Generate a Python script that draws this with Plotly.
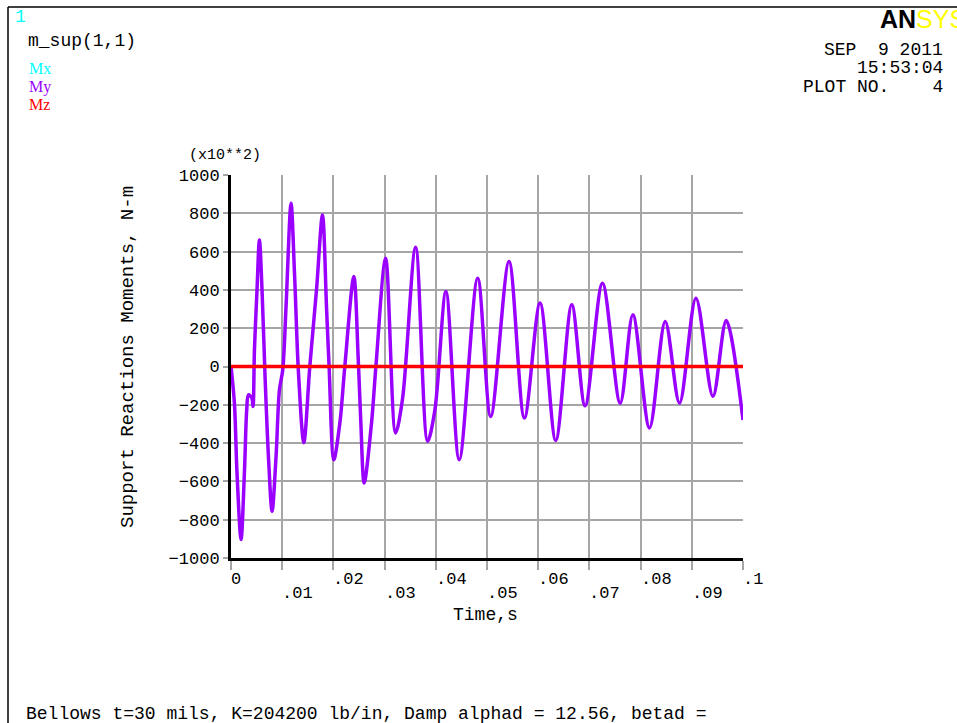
import plotly.graph_objects as go

# ---- data -----------------------------------------------------------------
# My support moment history (units of 1e2 N-m) vs time (s)
t_my = [0.0, 0.00066, 0.00117, 0.00196, 0.00262, 0.00307, 0.0034, 0.00405,
        0.0043, 0.00458, 0.00508, 0.00555, 0.00606, 0.00665, 0.00731, 0.00802,
        0.0088, 0.00946, 0.01011, 0.01075, 0.01173, 0.0124, 0.01318, 0.01422,
        0.01539, 0.0167, 0.01787, 0.01865, 0.01916, 0.02008, 0.02126, 0.02223,
        0.02399, 0.02483, 0.02536, 0.02601, 0.02745, 0.0283, 0.0302, 0.03215,
        0.0335, 0.03606, 0.0384, 0.03983, 0.04198, 0.04458, 0.04818, 0.05072,
        0.0543, 0.0573, 0.06036, 0.06343, 0.06656, 0.06916, 0.07255, 0.07601,
        0.07849, 0.08174, 0.08481, 0.0876, 0.09081, 0.09413, 0.09673, 0.1]
my = [0, -189, -554, -904, -554, -226, -148, -163,
      -209, 87, 400, 661, 400, -52, -469, -756,
      -469, -122, -17, 313, 852, 489, -33, -398,
      0, 400, 791, 313, 0, -487, -295, 0,
      470, 52, -294, -608, -294, 0, 565, -347,
      -170, 623, -391, -226, 391, -487, 461, -261,
      548, -269, 331, -386, 322, -205, 435, -191,
      270, -321, 235, -191, 357, -156, 240, -280]

# Mx and Mz stay at zero over the run
t_mx = [0.0, 0.1]
mx = [0, 0]
t_mz = [0.0, 0.1]
mz = [0, 0]

x_tick_vals = [0, 0.01, 0.02, 0.03, 0.04, 0.05, 0.06, 0.07, 0.08, 0.09, 0.1]
x_tick_text = ["0", ".01", ".02", ".03", ".04", ".05", ".06", ".07", ".08", ".09", ".1"]
y_tick_vals = [-1000, -800, -600, -400, -200, 0, 200, 400, 600, 800, 1000]

# ---- layout geometry (figure pixels) --------------------------------------
W, H = 957, 723
L, R, T, B = 231, 214, 175, 165
PW, PH = W - L - R, H - T - B


def px(x):
    return (x - L) / PW


def py(y):
    return (H - B - y) / PH


MONO = "Liberation Mono"
PURPLE = "#9900FF"

fig = go.Figure()
fig.add_trace(go.Scatter(x=t_mx, y=mx, mode="lines", name="Mx",
                         line=dict(color="#00FFFF", width=3)))
fig.add_trace(go.Scatter(x=t_my, y=my, mode="lines", name="My",
                         line=dict(color=PURPLE, width=3.5, shape="spline", smoothing=0.9)))
fig.add_trace(go.Scatter(x=t_mz, y=mz, mode="lines", name="Mz",
                         line=dict(color="#FF0000", width=3.5)))

ann = []
# staggered time tick labels
for i, (v, s) in enumerate(zip(x_tick_vals, x_tick_text)):
    ann.append(dict(x=v, y=py(579 if i % 2 == 0 else 593), xref="x", yref="paper",
                    text=s, showarrow=False, xanchor="left", yanchor="middle",
                    xshift=-2, font=dict(family=MONO, size=17, color="black")))

ann += [
    dict(x=px(485), y=py(615), text="Time,s", xanchor="center",
         font=dict(family=MONO, size=18, color="black")),
    dict(x=px(128), y=py(357), text="Support Reactions Moments, N-m",
         textangle=-90, xanchor="center", font=dict(family=MONO, size=19, color="black")),
    dict(x=px(187), y=py(155), text="(x10**2)", xanchor="left",
         font=dict(family=MONO, size=15, color="black")),
    dict(x=px(13), y=py(17), text="1", xanchor="left",
         font=dict(family=MONO, size=18, color="#00FFFF")),
    dict(x=px(26), y=py(41), text="m_sup(1,1)", xanchor="left",
         font=dict(family=MONO, size=18, color="black")),
    dict(x=px(27), y=py(69), text="Mx", xanchor="left",
         font=dict(family="Liberation Serif", size=16, color="#00FFFF")),
    dict(x=px(27), y=py(87), text="My", xanchor="left",
         font=dict(family="Liberation Serif", size=16, color=PURPLE)),
    dict(x=px(27), y=py(105), text="Mz", xanchor="left",
         font=dict(family="Liberation Serif", size=16, color="#FF0000")),
    dict(x=px(878), y=py(19), text="<b>AN</b><span style='color:#FFFF00'>SYS</span>",
         xanchor="left", font=dict(family="Liberation Sans", size=25, color="black")),
    dict(x=px(945), y=py(50), text="SEP  9 2011", xanchor="right",
         font=dict(family=MONO, size=18, color="black")),
    dict(x=px(945), y=py(68), text="15:53:04", xanchor="right",
         font=dict(family=MONO, size=18, color="black")),
    dict(x=px(945), y=py(87), text="PLOT NO.    4", xanchor="right",
         font=dict(family=MONO, size=18, color="black")),
    dict(x=px(24), y=py(714), text="Bellows t=30 mils, K=204200 lb/in, Damp alphad = 12.56, betad =",
         xanchor="left", font=dict(family=MONO, size=18, color="black")),
]
for a in ann:
    a.setdefault("xref", "paper")
    a.setdefault("yref", "paper")
    a.setdefault("showarrow", False)
    a.setdefault("yanchor", "middle")

# outer frame of the plot window (left and top edges)
shapes = [
    dict(type="line", xref="paper", yref="paper", x0=px(8), x1=px(8), y0=py(7), y1=py(H + 5),
         line=dict(color="black", width=1.5)),
    dict(type="line", xref="paper", yref="paper", x0=px(8), x1=px(W + 5), y0=py(7), y1=py(7),
         line=dict(color="black", width=1.5)),
]

fig.update_layout(
    width=W, height=H,
    margin=dict(l=L, r=R, t=T, b=B, pad=0),
    paper_bgcolor="white", plot_bgcolor="white",
    showlegend=False,
    annotations=ann, shapes=shapes,
    xaxis=dict(range=[0, 0.1], tickvals=x_tick_vals, showticklabels=False,
               showgrid=True, gridcolor="#A6A6A6", gridwidth=1.5,
               ticks="outside", ticklen=9, tickcolor="#A6A6A6", tickwidth=1.5,
               showline=True, linecolor="black", linewidth=3, zeroline=False),
    yaxis=dict(range=[-1000, 1000], tickvals=y_tick_vals,
               showgrid=True, gridcolor="#A6A6A6", gridwidth=1.5,
               ticks="outside", ticklen=5, tickcolor="#A6A6A6", tickwidth=1.5,
               tickfont=dict(family=MONO, size=17, color="black"),
               showline=True, linecolor="black", linewidth=3, zeroline=False),
)

fig.write_html("out.html")
